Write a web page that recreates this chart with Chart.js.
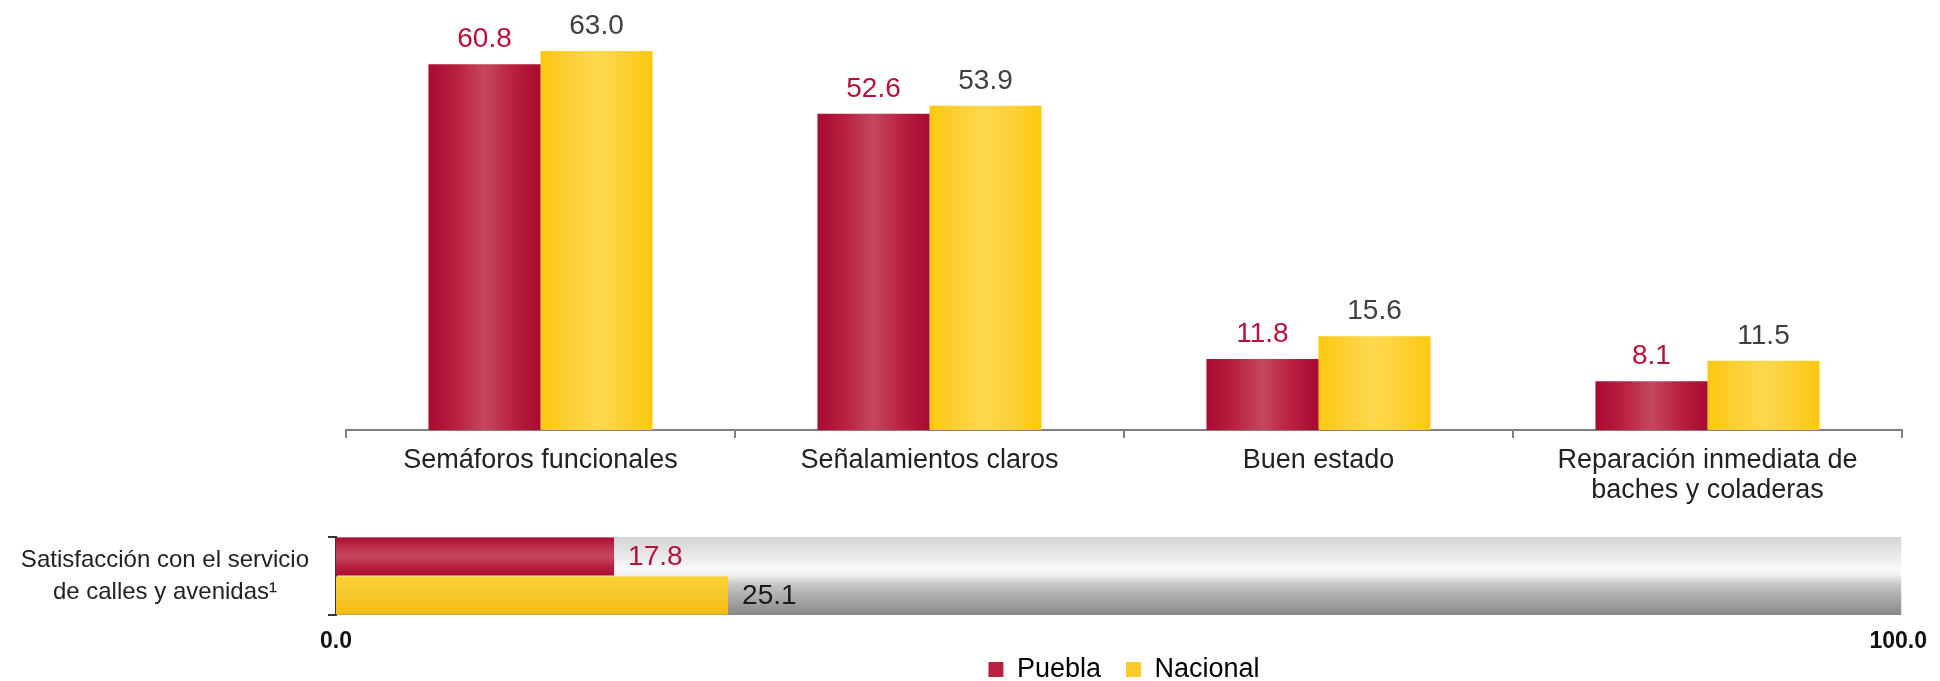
<!DOCTYPE html>
<html>
<head>
<meta charset="utf-8">
<script src="https://cdn.jsdelivr.net/npm/chart.js@4.4.1/dist/chart.umd.min.js"></script>
<style>
  html, body { margin: 0; padding: 0; background: #fff; overflow: hidden; }
  #wrap { position: relative; width: 1940px; height: 681px; overflow: hidden; }
  canvas { position: absolute; left: 0; top: 0; }
</style>
</head>
<body>
<div id="wrap">
  <canvas id="satChart" width="1940" height="681"></canvas>
  <canvas id="servChart" width="1940" height="693"></canvas>
</div>
<script>
const seriesNames = ['Puebla', 'Nacional'];

// atributos de calles y avenidas
const categories = ['Semáforos funcionales', 'Señalamientos claros', 'Buen estado', ['Reparación inmediata de', 'baches y coladeras']];
const puebla = [60.8, 52.6, 11.8, 8.1];
const nacional = [63.0, 53.9, 15.6, 11.5];

// satisfaccion general
const satLabel = [['Satisfacción con el servicio', 'de calles y avenidas¹']];
const satPuebla = [17.8];
const satNacional = [25.1];
const satTicks = [0, 100];

const FONT = '"Liberation Sans", Arial, sans-serif';
const CAT_PCT = 0.576;

const redCol = ['#a90a2f', '#b82142', '#c6475f', '#b82142', '#a90a2f'];
const yellowCol = ['#fdc80e', '#fdd035', '#fed94d', '#fdd035', '#fdc80e'];
const redRow = ['#ab0a2e', '#bd2e4c', '#c6485f', '#b92141', '#ab0a2e'];
const yellowRow = ['#fdd027', '#f7cb34', '#f5c62c', '#f4c11a', '#f3bd12'];

function stopsGrad(g, stops) {
  stops.forEach((c, i) => g.addColorStop(i / (stops.length - 1), c));
  return g;
}

function columnFill(stops) {
  return (c) => {
    const xs = c.chart.scales.x;
    if (c.type !== 'data' || !xs || !xs.width) return stops[2];
    const group = xs.width / categories.length * CAT_PCT;
    const bw = group / 2;
    const left = xs.getPixelForValue(c.dataIndex) - group / 2 + c.datasetIndex * bw;
    return stopsGrad(c.chart.ctx.createLinearGradient(left, 0, left + bw, 0), stops);
  };
}

function rowFill(stops) {
  return (c) => {
    const ys = c.chart.scales.y;
    if (c.type !== 'data' || !ys || !ys.height) return stops[2];
    const slot = ys.height / satLabel.length / 2;
    const top = ys.getPixelForValue(c.dataIndex) - slot + c.datasetIndex * slot;
    return stopsGrad(c.chart.ctx.createLinearGradient(0, top, 0, top + slot), stops);
  };
}

const valueLabels = {
  id: 'valueLabels',
  afterDatasetsDraw(chart) {
    const ctx = chart.ctx;
    const horiz = chart.options.indexAxis === 'y';
    chart.data.datasets.forEach((ds, di) => {
      chart.getDatasetMeta(di).data.forEach((bar, i) => {
        const txt = ds.data[i].toFixed(1);
        ctx.save();
        ctx.fillStyle = ds.valueColor;
        ctx.font = '28px ' + FONT;
        if (horiz) {
          ctx.textAlign = 'left';
          ctx.textBaseline = 'middle';
          ctx.fillText(txt, bar.x + 14, bar.y + 1);
        } else {
          ctx.textAlign = 'center';
          ctx.textBaseline = 'alphabetic';
          ctx.fillText(txt, bar.x, bar.y - 17);
        }
        ctx.restore();
      });
    });
  }
};

// barra gris de fondo 0-100
const trackBg = {
  id: 'trackBg',
  beforeDatasetsDraw(chart) {
    const {ctx, chartArea} = chart;
    const xs = chart.scales.x;
    const x0 = xs.getPixelForValue(satTicks[0]) + 1;
    const x1 = xs.getPixelForValue(satTicks[satTicks.length - 1]) + 3;
    const g = ctx.createLinearGradient(0, chartArea.top, 0, chartArea.bottom);
    g.addColorStop(0, '#d4d4d4');
    g.addColorStop(0.42, '#f9f9f9');
    g.addColorStop(0.5, '#ececec');
    g.addColorStop(0.62, '#c4c4c4');
    g.addColorStop(1, '#878787');
    ctx.save();
    ctx.fillStyle = g;
    ctx.fillRect(x0, chartArea.top, x1 - x0, chartArea.bottom - chartArea.top);
    ctx.restore();
  }
};

Chart.defaults.font.family = FONT;

new Chart(document.getElementById('satChart'), {
  type: 'bar',
  data: {
    labels: satLabel,
    datasets: [
      { label: seriesNames[0], data: satPuebla, backgroundColor: rowFill(redRow), valueColor: '#b5123a' },
      { label: seriesNames[1], data: satNacional, backgroundColor: rowFill(yellowRow), valueColor: '#1a1a1a' }
    ]
  },
  options: {
    indexAxis: 'y',
    responsive: false,
    animation: false,
    layout: { padding: { left: 0, right: 38, top: 537, bottom: 0 } },
    datasets: { bar: { categoryPercentage: 1, barPercentage: 0.975 } },
    scales: {
      x: {
        min: 0, max: 100,
        grid: { display: false, drawTicks: false },
        border: { display: false },
        afterBuildTicks: s => { s.ticks = satTicks.map(v => ({ value: v })); },
        ticks: {
          padding: 13, color: '#111', autoSkip: false, maxRotation: 0,
          font: { family: '"Liberation Sans Narrow", "Liberation Sans", sans-serif', size: 23, weight: 'bold' },
          callback: v => Number(v).toFixed(1)
        },
        afterFit: s => { s.height = 66; }
      },
      y: {
        grid: { drawOnChartArea: false, tickLength: 8, color: '#333', lineWidth: 2 },
        border: { color: '#333', width: 2 },
        ticks: { crossAlign: 'center', padding: 19, color: '#222', font: { size: 24, lineHeight: '32px' } },
        afterFit: s => { s.width = 336; }
      }
    },
    plugins: { legend: { display: false }, tooltip: { enabled: false } }
  },
  plugins: [trackBg, valueLabels]
});

new Chart(document.getElementById('servChart'), {
  type: 'bar',
  data: {
    labels: categories,
    datasets: [
      { label: seriesNames[0], data: puebla, backgroundColor: columnFill(redCol), valueColor: '#b5123a', legendColor: '#b8213f' },
      { label: seriesNames[1], data: nacional, backgroundColor: columnFill(yellowCol), valueColor: '#404040', legendColor: '#fccc2a' }
    ]
  },
  options: {
    responsive: false,
    animation: false,
    layout: { padding: { left: 346, right: 38, top: 9, bottom: 0 } },
    datasets: { bar: { categoryPercentage: CAT_PCT, barPercentage: 1 } },
    scales: {
      x: {
        grid: { drawOnChartArea: false, tickLength: 8, color: '#808080', lineWidth: 2 },
        border: { color: '#808080', width: 2 },
        ticks: { padding: 8, color: '#222', autoSkip: false, maxRotation: 0, font: { size: 27, lineHeight: '30px' } },
        afterFit: s => { s.height = 201; }
      },
      y: { display: false, min: 0, max: 70 }
    },
    plugins: {
      legend: {
        position: 'bottom',
        labels: {
          padding: 25, boxWidth: 15, boxHeight: 15, color: '#222',
          font: { size: 27 },
          generateLabels: ch => ch.data.datasets.map((d, i) => ({
            text: d.label, fillStyle: d.legendColor, strokeStyle: d.legendColor,
            lineWidth: 0, datasetIndex: i, hidden: false
          }))
        }
      },
      tooltip: { enabled: false }
    }
  },
  plugins: [valueLabels]
});
</script>
</body>
</html>
